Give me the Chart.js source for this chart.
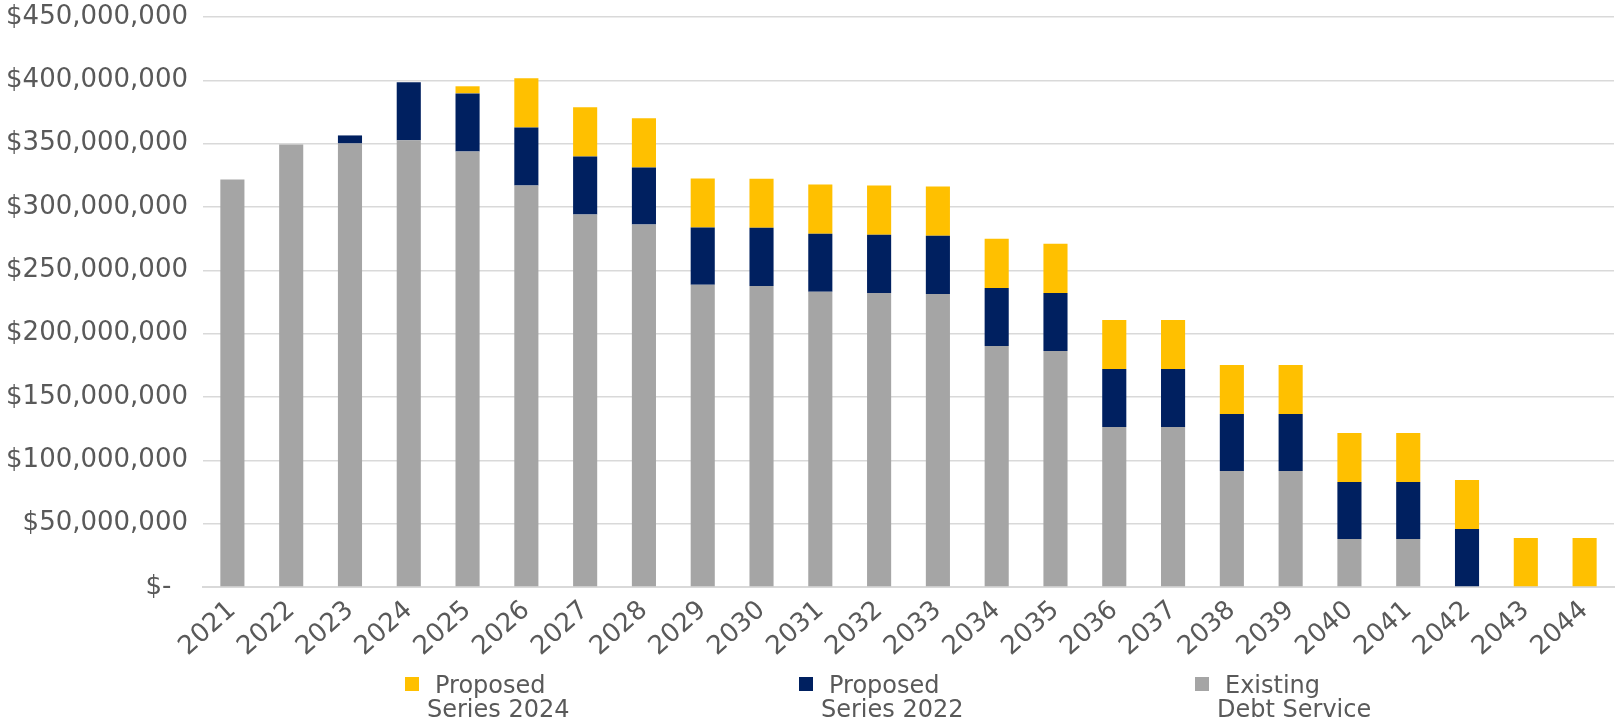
<!DOCTYPE html>
<html>
<head>
<meta charset="utf-8">
<script src="https://cdn.jsdelivr.net/npm/chart.js@4/dist/chart.umd.min.js"></script>
<style>
  html, body { margin: 0; padding: 0; background: #fff; }
  #wrap { width: 1615px; height: 725px; position: relative; }
</style>
</head>
<body>
<div id="wrap"><canvas id="debtChart"></canvas></div>
<script>
// Fiscal years
const years = ['2021', '2022', '2023', '2024', '2025', '2026', '2027', '2028', '2029', '2030', '2031', '2032',
               '2033', '2034', '2035', '2036', '2037', '2038', '2039', '2040', '2041', '2042', '2043', '2044'];

// Debt service by component, dollars
const existingDebt = [321700000, 349400000, 350200000, 352600000, 343900000, 317000000, 294000000, 286100000,
                      238700000, 237700000, 233000000, 232200000, 231400000, 190200000, 186300000, 126300000,
                      126300000, 91600000, 91600000, 37900000, 37900000, 0, 0, 0];
const series2022 = [0, 0, 6300000, 45800000, 45800000, 45800000, 45900000, 45100000,
                    45100000, 45900000, 45900000, 45900000, 45900000, 45900000, 45900000, 45800000,
                    45800000, 45000000, 45000000, 45000000, 45000000, 45800000, 0, 0];
const series2024 = [0, 0, 0, 0, 5600000, 38800000, 38800000, 38800000,
                    38700000, 38800000, 38800000, 38800000, 38800000, 38800000, 38800000, 38700000,
                    38700000, 38700000, 38700000, 38700000, 38700000, 38700000, 38700000, 38700000];

// Legend entries, in the order shown under the chart
const legendItems = [
    { lines: ['Proposed', 'Series 2024'], color: '#FFC000' },
    { lines: ['Proposed', 'Series 2022'], color: '#002060' },
    { lines: ['Existing', 'Debt Service'], color: '#A5A5A5' }
];

const textColor = '#595959';
const tickFont = { family: 'DejaVu Sans', size: 26 };

// Two-line legend under the plot, drawn on the canvas
const bottomLegend = {
    id: 'bottomLegend',
    afterDraw(chart) {
        const ctx = chart.ctx;
        const boxX = [405, 799, 1195];
        ctx.save();
        ctx.font = '24px "DejaVu Sans"';
        ctx.textBaseline = 'alphabetic';
        ctx.textAlign = 'left';
        legendItems.forEach((item, i) => {
            const x = boxX[i];
            ctx.fillStyle = item.color;
            ctx.fillRect(x, 677, 14, 14);
            ctx.fillStyle = textColor;
            ctx.fillText(item.lines[0], x + 30, 693);
            ctx.fillText(item.lines[1], x + 22, 717);
        });
        ctx.restore();
    }
};

const ctx = document.getElementById('debtChart').getContext('2d');
const chart = new Chart(ctx, {
    type: 'bar',
    data: {
        labels: years,
        datasets: [
            { label: 'Existing Debt Service', data: existingDebt, backgroundColor: '#A5A5A5' },
            { label: 'Proposed Series 2022', data: series2022, backgroundColor: '#002060' },
            { label: 'Proposed Series 2024', data: series2024, backgroundColor: '#FFC000' }
        ]
    },
    options: {
        responsive: true,
        maintainAspectRatio: false,
        animation: false,
        layout: { padding: { top: 0, right: 1, left: 0, bottom: 0 } },
        datasets: { bar: { categoryPercentage: 1, barPercentage: 0.41 } },
        plugins: {
            legend: { display: false },
            tooltip: { enabled: false }
        },
        scales: {
            x: {
                stacked: true,
                grid: { display: false, drawTicks: false },
                border: { color: '#d9d9d9', width: 2 },
                ticks: { color: textColor, font: tickFont, minRotation: 42, maxRotation: 42, padding: 8 },
                afterFit(scale) { scale.height = 138; }
            },
            y: {
                stacked: true,
                min: 0,
                max: 450000000,
                grid: { color: '#d9d9d9', lineWidth: 1.5, drawTicks: false },
                border: { display: false },
                ticks: {
                    stepSize: 50000000,
                    color: textColor,
                    font: tickFont,
                    padding: 15,
                    callback: v => v === 0 ? '$-  ' : '$' + v.toLocaleString('en-US')
                },
                afterFit(scale) {
                    scale.width = 203;
                    scale.paddingTop = 17;
                    scale.paddingBottom = 0;
                }
            }
        }
    },
    plugins: [bottomLegend]
});
</script>
</body>
</html>
